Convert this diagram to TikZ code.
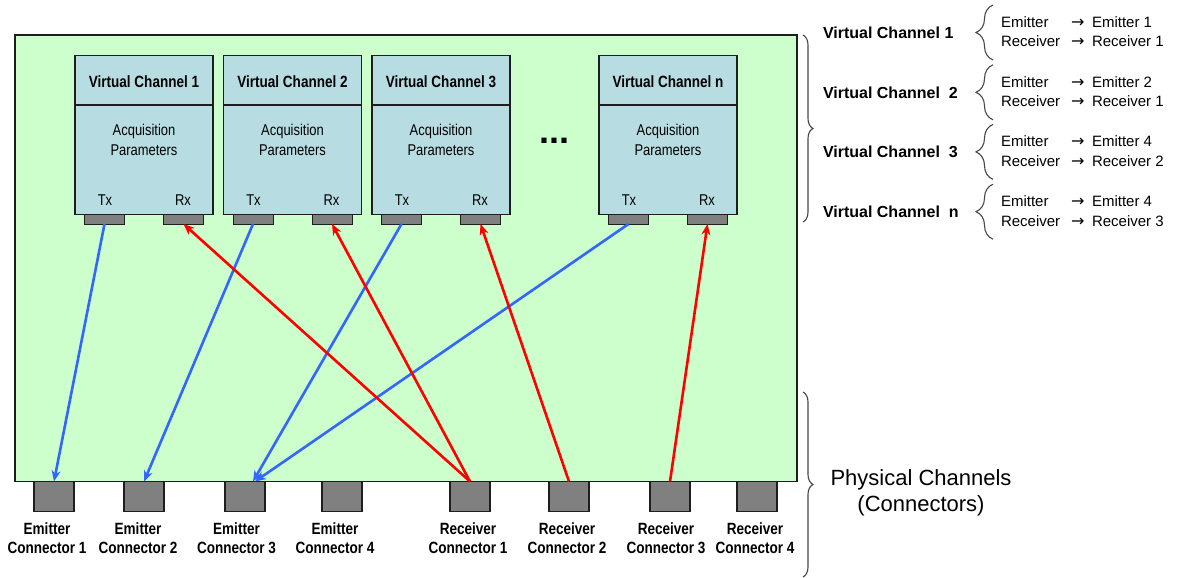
\documentclass[tikz,border=0pt]{standalone}
\usepackage{fontspec}
\setmainfont{Liberation Sans}
\newfontfamily\condfont[FakeStretch=0.83]{Liberation Sans}
\newfontfamily\arrowfont{DejaVu Sans}
\usetikzlibrary{arrows.meta,decorations.pathreplacing}
\definecolor{bggreen}{RGB}{204,255,204}
\definecolor{boxblue}{RGB}{183,221,227}
\definecolor{conngray}{RGB}{128,128,128}
\definecolor{tblue}{RGB}{51,102,255}
\definecolor{rred}{RGB}{255,0,0}
\definecolor{bracegray}{RGB}{70,70,70}
\definecolor{edge}{RGB}{30,30,30}
\begin{document}
\begin{tikzpicture}[x=1pt,y=-1pt,
  every node/.style={inner sep=0pt,outer sep=0pt},
  panel/.style={draw=edge,line width=1.2pt,fill=bggreen,minimum width=782pt,minimum height=446.5pt,anchor=north west},
  vcbox/.style={draw=edge,line width=1.2pt,fill=boxblue,minimum width=138pt,minimum height=159pt,anchor=north west},
  pinbox/.style={draw=edge,line width=1pt,fill=conngray,minimum width=40pt,minimum height=9.5pt,anchor=north},
  physbox/.style={draw=edge,line width=1.2pt,fill=conngray,minimum width=40pt,minimum height=30pt,anchor=north},
  txarrow/.style={draw=tblue,line width=2.6pt,-{Stealth[length=11pt,width=9pt]}},
  rxarrow/.style={draw=rred,line width=2.6pt,-{Stealth[length=11pt,width=9pt]}},
  titletxt/.style={font=\condfont\fontsize{16.3}{19}\selectfont\bfseries},
  paramtxt/.style={font=\condfont\fontsize{15.6}{20}\selectfont,align=center},
  pintxt/.style={font=\condfont\fontsize{15.6}{18}\selectfont},
  conntxt/.style={font=\condfont\fontsize{16.3}{19.5}\selectfont\bfseries,align=center},
  vclab/.style={font=\fontsize{16}{19}\selectfont\bfseries,anchor=base west},
  maptxt/.style={font=\fontsize{15}{18}\selectfont,anchor=base west},
  maparrow/.style={font=\arrowfont\fontsize{16}{18}\selectfont,anchor=base west},
  bigbrace/.style={draw=bracegray,line width=1.1pt,decorate,decoration={brace,amplitude=10pt}},
  smallbrace/.style={draw=bracegray,line width=1.1pt,decorate,decoration={brace,amplitude=17pt}},
  physlab/.style={font=\fontsize{22}{26}\selectfont,align=center}
]
\useasboundingbox (0,0) rectangle (1178,578);

% main panel
\node[panel] (panel) at (15,35) {};

% virtual channel boxes
\foreach \L/\n/\t in {75/1/{Virtual Channel 1},223.5/2/{Virtual Channel 2},372/3/{Virtual Channel 3},599/n/{Virtual Channel n}}{
  \node[vcbox] (vc\n) at (\L,55.5) {};
  \draw[draw=edge,line width=1.2pt] (\L,105) -- (\L+138,105);
  \node[titletxt] (vct\n) at (\L+69,81.5) {\t};
  \node[paramtxt] (vcp\n) at (\L+69,139.5) {Acquisition\\Parameters};
  \node[pintxt] (txl\n) at (\L+30,200) {Tx};
  \node[pintxt] (rxl\n) at (\L+108,200) {Rx};
  \node[pinbox] (tx\n) at (\L+29.5,214.5) {};
  \node[pinbox] (rx\n) at (\L+108.5,214.5) {};
}
\node[font=\fontsize{36}{36}\selectfont\bfseries,anchor=base] (dots) at (554,143) {...};

% physical connectors
\foreach \nm/\x/\lx/\a/\b in {ec1/54/47/Emitter/1,ec2/144/138/Emitter/2,ec3/245/236.5/Emitter/3,ec4/342/335/Emitter/4,rc1/470/468/Receiver/1,rc2/569/567/Receiver/2,rc3/670/666/Receiver/3,rc4/757/755/Receiver/4}{
  \node[physbox] (\nm) at (\x,481.5) {};
  \node[conntxt] (\nm l) at (\lx,538) {\a\\Connector \b};
}

% transmit connections
\draw[txarrow] (tx1.south) -- (ec1.north);
\draw[txarrow] (tx2.south) -- (ec2.north);
\draw[txarrow] (tx3.south) -- ([xshift=8pt]ec3.north);
\draw[txarrow] (txn.south) -- ([xshift=10pt]ec3.north);

% receive connections
\draw[rxarrow] (rc1.north) -- (rx1.south);
\draw[rxarrow] (rc1.north) -- (rx2.south);
\draw[rxarrow] (rc2.north) -- (rx3.south);
\draw[rxarrow] (rc3.north) -- (rxn.south);

% right-hand side annotations
\draw[bigbrace] (803,35) -- (803,222);
\draw[bigbrace] (803,392) -- (803,577);
\node[physlab] (physical) at (921,493) {Physical Channels\\(Connectors)};

\foreach \y/\lab/\e/\r [count=\i] in {27.5/{Virtual Channel 1}/{Emitter 1}/{Receiver 1},87.3/{Virtual Channel\ \ 2}/{Emitter 2}/{Receiver 1},146.9/{Virtual Channel\ \ 3}/{Emitter 4}/{Receiver 2},206.7/{Virtual Channel\ \ n}/{Emitter 4}/{Receiver 3}}{
  \node[vclab] (rv\i) at (823,\y+10.7) {\lab};
  \draw[smallbrace] (993,\y+32.5) -- (993,\y-22.5);
  \node[maptxt] (me\i) at (1001,\y) {Emitter};
  \node[maparrow] (mea\i) at (1071,\y) {→};
  \node[maptxt] (met\i) at (1092,\y) {\e};
  \node[maptxt] (mr\i) at (1001,\y+19.5) {Receiver};
  \node[maparrow] (mra\i) at (1071,\y+19.5) {→};
  \node[maptxt] (mrt\i) at (1092,\y+19.5) {\r};
}
\end{tikzpicture}
\end{document}
